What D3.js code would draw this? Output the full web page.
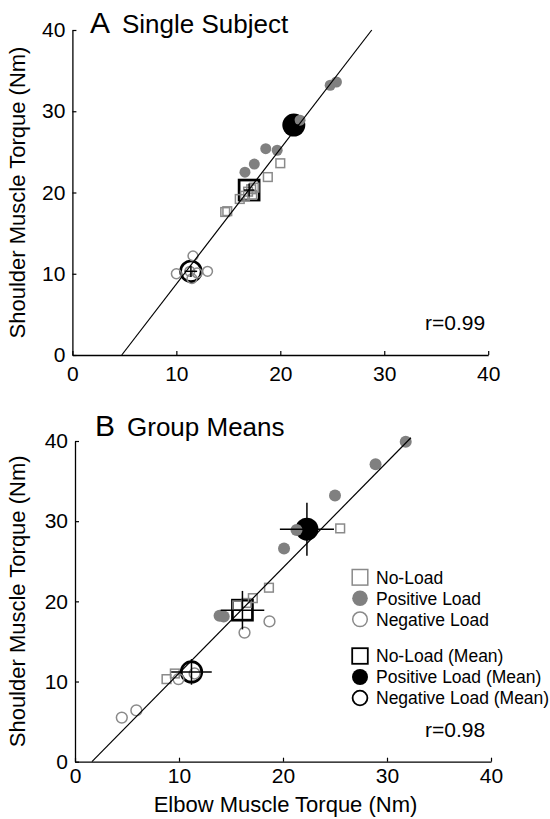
<!DOCTYPE html>
<html>
<head>
<meta charset="utf-8">
<script src="https://cdn.jsdelivr.net/npm/d3@7"></script>
<style>
  body { margin: 0; background: #fff; }
  svg { display: block; }
  text { font-family: "Liberation Sans", Arial, Helvetica, sans-serif; fill: #000; }
</style>
</head>
<body>
<svg id="fig" width="550" height="819"></svg>
<script>
// ---- data: [elbow torque, shoulder torque] in Nm ----
const tickValues = [0, 10, 20, 30, 40];

// Panel A: single subject, individual trials
const aNoLoad   = [[14.7,17.6],[14.9,17.7],[16.1,19.2],[16.6,19.6],[16.9,20.1],[17.2,20.4],[17.5,20.6],[17.3,19.7],[18.8,21.9],[20.0,23.6]];
const aPositive = [[16.6,22.5],[17.5,23.5],[18.6,25.4],[19.7,25.2],[21.9,28.9],[24.8,33.2],[25.4,33.6]];
const aNegative = [[10.0,10.0],[13.0,10.3],[11.6,12.2],[11.3,10.3],[12.0,10.1],[11.5,9.4]];
// condition means: [elbow, shoulder, sd elbow, sd shoulder]
const aMeanNoLoad   = [17.0, 20.3, 0.5, 0.8];
const aMeanPositive = [21.3, 28.3, 0.5, 0.6];
const aMeanNegative = [11.4, 10.3, 0.6, 0.7];
const aFit = [[4.75, 0], [28.8, 40]];
const aR = "r=0.99";

// Panel B: group means per subject
const bNoLoad   = [[8.8,10.3],[9.6,11.0],[15.6,19.5],[16.5,19.8],[17.1,20.4],[18.65,21.7],[25.5,29.1]];
const bPositive = [[13.9,18.2],[14.3,18.1],[20.1,26.6],[21.3,28.9],[25.0,33.2],[28.9,37.1],[31.8,39.9]];
const bNegative = [[4.5,5.5],[5.9,6.4],[9.95,10.3],[11.5,11.0],[16.3,16.1],[18.7,17.5]];
const bMeanNoLoad   = [16.1, 18.9, 2.1, 2.4];
const bMeanPositive = [22.3, 29.0, 2.6, 3.3];
const bMeanNegative = [11.2, 11.2, 1.95, 1.6];
const bFit = [[1.63, 0], [32.3, 40.4]];
const bR = "r=0.98";

const legendLabels = ["No-Load", "Positive Load", "Negative Load",
                      "No-Load (Mean)", "Positive Load (Mean)", "Negative Load (Mean)"];

const GRAY_FILL = "#808080";
const GRAY_LINE = "#8a8a8a";

const svg = d3.select("#fig");

function drawPanel(cfg) {
  const x = d3.scaleLinear().domain([0, 40]).range([cfg.x0, cfg.x1]);
  const y = d3.scaleLinear().domain([0, 40]).range([cfg.y0, cfg.y1]);
  const g = svg.append("g");

  // axes with inward ticks
  const xAxis = d3.axisBottom(x).tickValues(tickValues).tickSizeInner(-4).tickSizeOuter(0).tickPadding(cfg.xPad);
  const yAxis = d3.axisLeft(y).tickValues(tickValues).tickSizeInner(-4).tickSizeOuter(0).tickPadding(7);
  const gx = g.append("g").attr("transform", `translate(0,${cfg.y0})`).call(xAxis);
  const gy = g.append("g").attr("transform", `translate(${cfg.x0},0)`).call(yAxis);
  [gx, gy].forEach(a => {
    a.selectAll("path.domain").attr("stroke", "#000").attr("stroke-width", 1.3);
    a.selectAll(".tick line").attr("stroke", "#000").attr("stroke-width", 1.2);
    a.selectAll(".tick text").attr("font-size", 21).style("font-family", "'Liberation Sans', Arial, sans-serif");
  });

  // panel titles
  g.append("text").attr("x", cfg.titleX).attr("y", cfg.titleY).attr("font-size", 30).text(cfg.letter);
  g.append("text").attr("x", cfg.titleX + 32).attr("y", cfg.titleY).attr("font-size", 26).text(cfg.title);

  // y-axis label
  g.append("text")
    .attr("transform", `translate(25,${(cfg.y0 + cfg.y1) / 2}) rotate(-90)`)
    .attr("text-anchor", "middle").attr("font-size", 22)
    .text("Shoulder Muscle Torque (Nm)");

  // mean markers
  const mSq = cfg.meanNoLoad;
  g.append("rect")
    .attr("x", x(mSq[0]) - 10).attr("y", y(mSq[1]) - 10)
    .attr("width", 20).attr("height", 20)
    .attr("fill", "none").attr("stroke", "#000").attr("stroke-width", 2.7);
  g.append("circle")
    .attr("cx", x(cfg.meanPositive[0])).attr("cy", y(cfg.meanPositive[1]))
    .attr("r", 11.5).attr("fill", "#000");
  g.append("circle")
    .attr("cx", x(cfg.meanNegative[0])).attr("cy", y(cfg.meanNegative[1]))
    .attr("r", 10.3).attr("fill", "none").attr("stroke", "#000").attr("stroke-width", 2.7);

  // individual points
  const s = cfg.sq;
  g.selectAll(null).data(cfg.noLoad).join("rect")
    .attr("x", d => x(d[0]) - s / 2).attr("y", d => y(d[1]) - s / 2)
    .attr("width", s).attr("height", s)
    .attr("fill", "none").attr("stroke", GRAY_LINE).attr("stroke-width", 1.5);
  g.selectAll(null).data(cfg.positive).join("circle")
    .attr("cx", d => x(d[0])).attr("cy", d => y(d[1]))
    .attr("r", cfg.dot).attr("fill", GRAY_FILL);
  g.selectAll(null).data(cfg.negative).join("circle")
    .attr("cx", d => x(d[0])).attr("cy", d => y(d[1]))
    .attr("r", cfg.dot - 0.6).attr("fill", "none").attr("stroke", GRAY_LINE).attr("stroke-width", 1.5);

  // error bars (± sd) on the means
  const means = [cfg.meanNoLoad, cfg.meanPositive, cfg.meanNegative];
  const eb = g.append("g").attr("stroke", "#000").attr("stroke-width", 1.5);
  means.forEach(m => {
    eb.append("line").attr("x1", x(m[0] - m[2])).attr("x2", x(m[0] + m[2])).attr("y1", y(m[1])).attr("y2", y(m[1]));
    eb.append("line").attr("x1", x(m[0])).attr("x2", x(m[0])).attr("y1", y(m[1] - m[3])).attr("y2", y(m[1] + m[3]));
  });

  // regression line
  g.append("path")
    .attr("d", d3.line().x(d => x(d[0])).y(d => y(d[1]))(cfg.fit))
    .attr("fill", "none").attr("stroke", "#000").attr("stroke-width", 1.2);

  // correlation
  g.append("text").attr("x", 425).attr("y", cfg.rY).attr("font-size", 21).text(cfg.r);

  return { x, y, g };
}

drawPanel({
  x0: 72.4, x1: 488.2, y0: 355, y1: 30, xPad: 11,
  letter: "A", title: "Single Subject", titleX: 90, titleY: 33,
  noLoad: aNoLoad, positive: aPositive, negative: aNegative,
  meanNoLoad: aMeanNoLoad, meanPositive: aMeanPositive, meanNegative: aMeanNegative,
  fit: aFit, r: aR, rY: 330, sq: 8.7, dot: 5.5
});

drawPanel({
  x0: 75, x1: 491, y0: 761.7, y1: 441, xPad: 6,
  letter: "B", title: "Group Means", titleX: 95, titleY: 436,
  noLoad: bNoLoad, positive: bPositive, negative: bNegative,
  meanNoLoad: bMeanNoLoad, meanPositive: bMeanPositive, meanNegative: bMeanNegative,
  fit: bFit, r: bR, rY: 737, sq: 8.7, dot: 6
});

// x-axis label (bottom panel only)
svg.append("text").attr("x", 285.5).attr("y", 812).attr("text-anchor", "middle")
  .attr("font-size", 22).text("Elbow Muscle Torque (Nm)");

// legend
const legendRows = [577.3, 598.3, 619.3, 656, 677, 698];
const leg = svg.append("g");
const lx = 360;
const markers = [
  g => g.append("rect").attr("x", lx - 7.8).attr("y", -7.8).attr("width", 15.6).attr("height", 15.6)
        .attr("fill", "none").attr("stroke", GRAY_LINE).attr("stroke-width", 1.5),
  g => g.append("circle").attr("cx", lx).attr("r", 7.8).attr("fill", GRAY_FILL),
  g => g.append("circle").attr("cx", lx).attr("r", 7.3).attr("fill", "none").attr("stroke", GRAY_LINE).attr("stroke-width", 1.5),
  g => g.append("rect").attr("x", lx - 7.8).attr("y", -7.8).attr("width", 15.6).attr("height", 15.6)
        .attr("fill", "none").attr("stroke", "#000").attr("stroke-width", 1.8),
  g => g.append("circle").attr("cx", lx).attr("r", 8).attr("fill", "#000"),
  g => g.append("circle").attr("cx", lx).attr("r", 7.4).attr("fill", "none").attr("stroke", "#000").attr("stroke-width", 1.8)
];
legendLabels.forEach((label, i) => {
  const row = leg.append("g").attr("transform", `translate(0,${legendRows[i]})`);
  markers[i](row);
  row.append("text").attr("x", 376).attr("y", 0).attr("dy", "0.36em").attr("font-size", 17.5).text(label);
});
</script>
</body>
</html>
